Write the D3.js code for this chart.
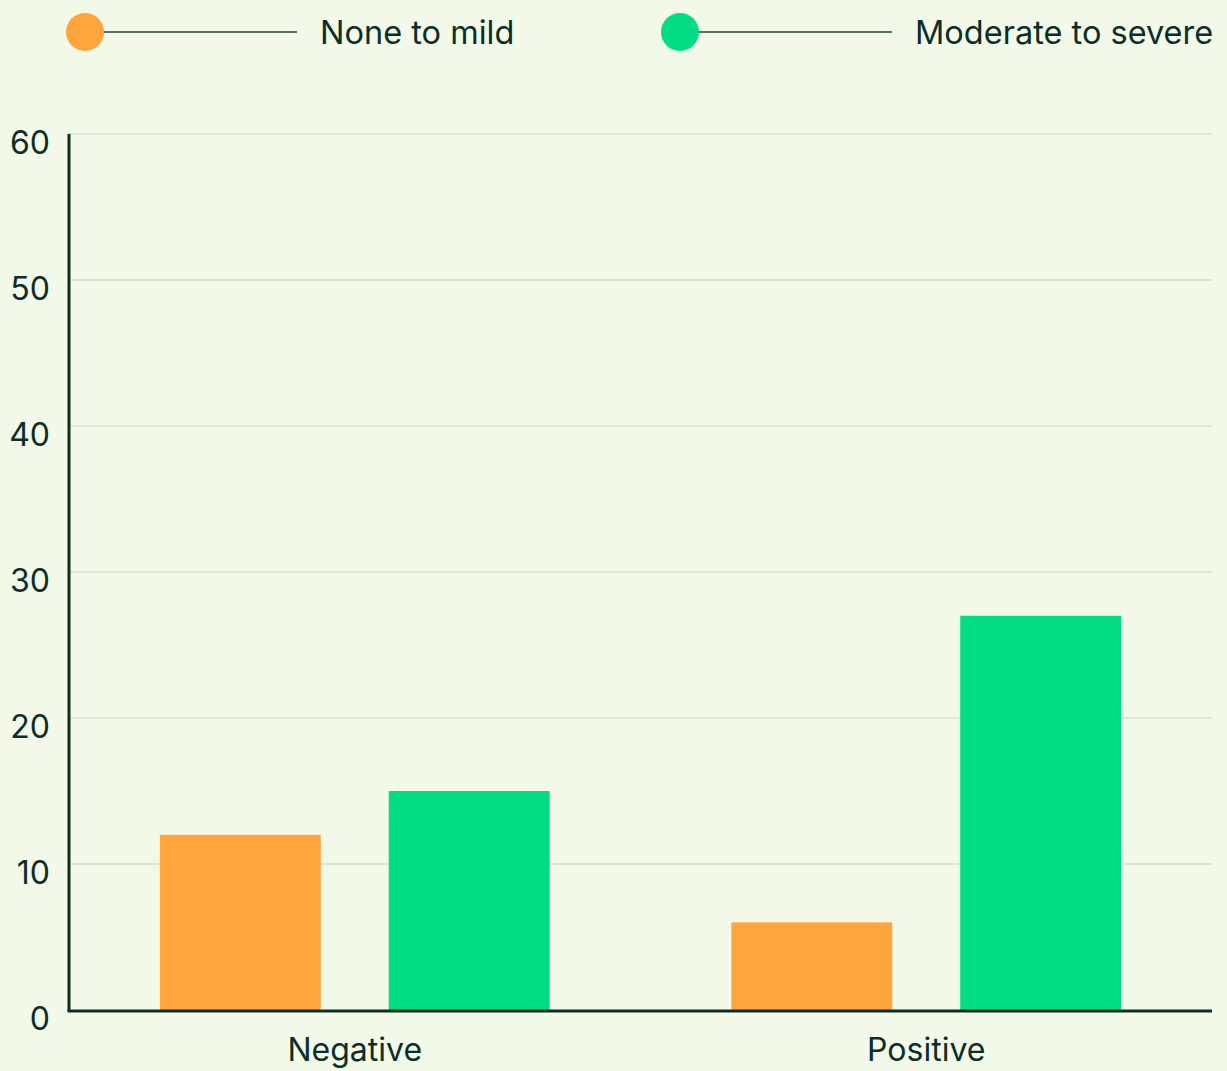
<!DOCTYPE html>
<html>
<head>
<meta charset="utf-8">
<script src="https://cdn.jsdelivr.net/npm/d3@7"></script>
<style>
  html, body { margin: 0; padding: 0; background: #f2f9e8; }
  svg { display: block; }
  text { font-family: Inter, "Noto Sans", sans-serif; fill: #0c2e27; }
</style>
</head>
<body>
<svg id="chart" width="1227" height="1071"></svg>
<script>
// Chart data
const categories = ["Negative", "Positive"];
const seriesNames = ["None to mild", "Moderate to severe"];
const noneToMild = [12, 6];
const moderateToSevere = [15, 27];
const yTicks = [0, 10, 20, 30, 40, 50, 60];

const colors = ["#ffa53b", "#00dd84"];
const ink = "#0c2e27";
const fontFamily = 'Inter, "Noto Sans", sans-serif';

const svg = d3.select("#chart");
const W = 1227, H = 1071;
const margin = { left: 69, right: 15, top: 134, bottom: 61 };
const plotW = W - margin.left - margin.right;
const plotH = H - margin.top - margin.bottom;

const g = svg.append("g").attr("transform", `translate(${margin.left},${margin.top})`);

const x = d3.scaleBand().domain(categories).range([0, plotW]).padding(0);
const xInner = d3.scaleBand().domain(seriesNames).range([0, x.bandwidth()])
  .paddingInner(0.297).paddingOuter(0.397);
const y = d3.scaleLinear().domain([0, 60]).range([plotH, 0]);

// gridlines
g.append("g").selectAll("line").data(yTicks.filter(d => d > 0)).join("line")
  .attr("x1", 0).attr("x2", plotW)
  .attr("y1", d => y(d)).attr("y2", d => y(d))
  .attr("stroke", "#c9d3c0").attr("stroke-width", 1.2);

// bars
const rows = categories.map((c, i) => ({ cat: c, values: [noneToMild[i], moderateToSevere[i]] }));
const groups = g.selectAll(".grp").data(rows).join("g")
  .attr("transform", d => `translate(${x(d.cat)},0)`);
groups.selectAll("rect").data(d => d.values.map((v, j) => ({ s: seriesNames[j], v, j }))).join("rect")
  .attr("x", d => xInner(d.s))
  .attr("width", xInner.bandwidth())
  .attr("y", d => y(d.v))
  .attr("height", d => plotH - y(d.v))
  .attr("fill", d => colors[d.j]);

// y axis labels
const yAxis = d3.axisLeft(y).tickValues(yTicks).tickSize(0).tickPadding(19);
const ya = g.append("g").call(yAxis);
ya.select(".domain").remove();
ya.selectAll("text").attr("font-size", 32).attr("dy", "0.62em")
  .style("font-family", fontFamily).attr("fill", ink);

// x axis labels
const xAxis = d3.axisBottom(x).tickSize(0).tickPadding(28);
const xa = g.append("g").attr("transform", `translate(0,${plotH})`).call(xAxis);
xa.select(".domain").remove();
xa.selectAll("text").attr("font-size", 32)
  .style("font-family", fontFamily).attr("fill", ink);

// axis lines
g.append("line").attr("x1", 0).attr("x2", 0).attr("y1", 0).attr("y2", plotH + 1)
  .attr("stroke", ink).attr("stroke-width", 3);
g.append("line").attr("x1", -1.5).attr("x2", plotW).attr("y1", plotH + 1).attr("y2", plotH + 1)
  .attr("stroke", ink).attr("stroke-width", 3);

// legend
const legendX = [85, 680];
const leg = svg.selectAll(".leg").data(seriesNames).join("g")
  .attr("transform", (d, i) => `translate(${legendX[i]},32)`);
leg.append("line").attr("x1", 0).attr("x2", 212).attr("y1", 0).attr("y2", 0)
  .attr("stroke", "#24453d").attr("stroke-width", 1.5);
leg.append("circle").attr("r", 19).attr("fill", (d, i) => colors[i]);
leg.append("text").attr("x", 235).attr("dy", "0.36em").attr("font-size", 32.5).text(d => d);
</script>
</body>
</html>
